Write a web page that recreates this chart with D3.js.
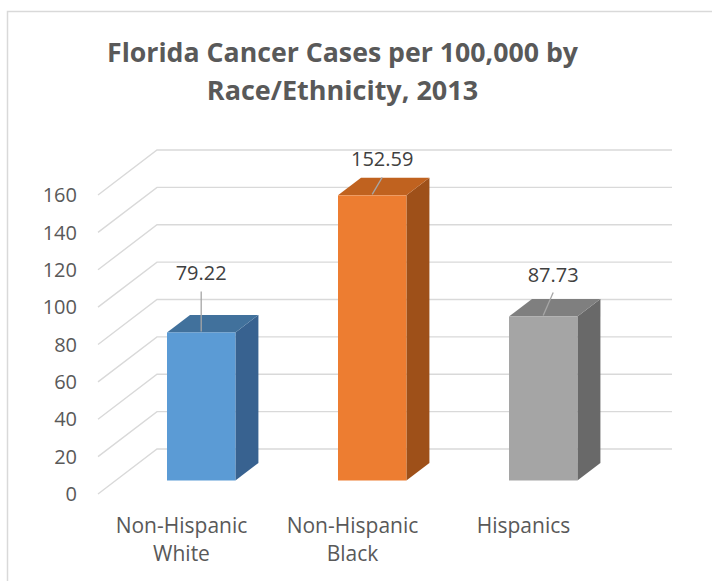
<!DOCTYPE html>
<html>
<head>
<meta charset="utf-8">
<script src="https://cdn.jsdelivr.net/npm/d3@7"></script>
<style>
  html, body { margin: 0; padding: 0; background: #ffffff; }
  svg { display: block; }
</style>
</head>
<body>
<script>
// ---------- data ----------
const categories = ["Non-Hispanic White", "Non-Hispanic Black", "Hispanics"];
const categoryLines = [["Non-Hispanic", "White"], ["Non-Hispanic", "Black"], ["Hispanics"]];
const values = [79.22, 152.59, 87.73];
const valueLabels = ["79.22", "152.59", "87.73"];
const yTicks = [0, 20, 40, 60, 80, 100, 120, 140, 160];
const titleLines = ["Florida Cancer Cases per 100,000 by", "Race/Ethnicity, 2013"];

// ---------- styling / layout ----------
const frontColors = ["#5b9bd5", "#ed7d31", "#a5a5a5"];
const topColors   = ["#41719c", "#c0621f", "#7f7f7f"];
const sideColors  = ["#386290", "#9e5019", "#696969"];
const labelNudge  = [[0, -52], [10, -29], [10, -35]]; // manual label placement (px)

const W = 712, H = 581;
const svg = d3.select("body").append("svg").attr("width", W).attr("height", H);

// chart border
svg.append("rect")
  .attr("x", 7.5).attr("y", 11.5).attr("width", W + 20).attr("height", H + 20)
  .attr("fill", "none").attr("stroke", "#d9d9d9").attr("stroke-width", 1.5);

// 3D geometry
const floorLeft = 98, floorRight = 611, baseY = 494;
const depthDx = 59, depthDy = -45;         // front-to-back wall offset
const tFront = 0.30, tBack = 0.69;          // bar depth position

const x = d3.scaleBand().domain(categories).range([floorLeft, floorRight])
  .paddingInner(0.6).paddingOuter(0.3);
const h = d3.scaleLinear().domain([0, 160]).range([0, 299]);

// gridlines (side wall diagonal + back wall horizontal)
const grid = svg.append("g");
yTicks.forEach(v => {
  const p = d3.path();
  p.moveTo(floorLeft, baseY - h(v));
  p.lineTo(floorLeft + depthDx, baseY + depthDy - h(v));
  p.lineTo(floorRight + depthDx + 2, baseY + depthDy - h(v));
  grid.append("path").attr("d", p.toString())
    .attr("fill", "none").attr("stroke", "#d9d9d9").attr("stroke-width", 1.4);
});

// y tick labels
svg.append("g").selectAll("text").data(yTicks).join("text")
  .attr("x", 77).attr("y", d => baseY - h(d))
  .attr("dy", "0.36em")
  .attr("text-anchor", "end")
  .attr("font-family", "'Open Sans', sans-serif").attr("font-size", 20)
  .attr("fill", "#595959")
  .text(d => d);

// bars
const fdx = depthDx * tFront, fdy = depthDy * tFront;
const bdx = depthDx * (tBack - tFront), bdy = depthDy * (tBack - tFront);
const bw = x.bandwidth();
const bars = svg.append("g");
values.forEach((v, i) => {
  const x0 = x(categories[i]) + fdx, x1 = x0 + bw;
  const yb = baseY + fdy, yt = yb - h(v);
  bars.append("polygon")
    .attr("points", [[x1, yt], [x1 + bdx, yt + bdy], [x1 + bdx, yb + bdy], [x1, yb]].join(" "))
    .attr("fill", sideColors[i]);
  bars.append("polygon")
    .attr("points", [[x0, yt], [x1, yt], [x1 + bdx, yt + bdy], [x0 + bdx, yt + bdy]].join(" "))
    .attr("fill", topColors[i]);
  bars.append("rect")
    .attr("x", x0).attr("y", yt).attr("width", bw).attr("height", h(v))
    .attr("fill", frontColors[i]);

  // data label with leader line
  const ax = x0 + bw / 2, ay = yt;
  const lx = ax + labelNudge[i][0], ly = ay + labelNudge[i][1];
  svg.append("line")
    .attr("x1", lx).attr("y1", ly + 11).attr("x2", ax).attr("y2", ay - 1)
    .attr("stroke", "#a6a6a6").attr("stroke-width", 1.3);
  svg.append("text")
    .attr("x", lx).attr("y", ly)
    .attr("text-anchor", "middle")
    .attr("font-family", "'Open Sans', sans-serif").attr("font-size", 20)
    .attr("fill", "#404040")
    .text(valueLabels[i]);
});

// category labels
categoryLines.forEach((lines, i) => {
  const cx = x(categories[i]) + bw / 2 - 2;
  const t = svg.append("text")
    .attr("text-anchor", "middle")
    .attr("font-family", "'Open Sans', sans-serif").attr("font-size", 21)
    .attr("fill", "#595959");
  lines.forEach((ln, j) => {
    t.append("tspan").attr("x", cx).attr("y", 533 + j * 28).text(ln);
  });
});

// title
const titleWidths = [471, 269];
titleLines.forEach((ln, j) => {
  const t = svg.append("text")
    .attr("x", 342.5).attr("y", 62 + j * 38)
    .attr("text-anchor", "middle")
    .attr("font-family", "'Open Sans', sans-serif").attr("font-weight", "bold")
    .attr("font-size", 27)
    .attr("fill", "#595959")
    .text(ln);
  const len = t.node().getComputedTextLength();
  if (Math.abs(len - titleWidths[j]) > 3) {
    t.attr("textLength", titleWidths[j]).attr("lengthAdjust", "spacingAndGlyphs");
  }
});
</script>
</body>
</html>
